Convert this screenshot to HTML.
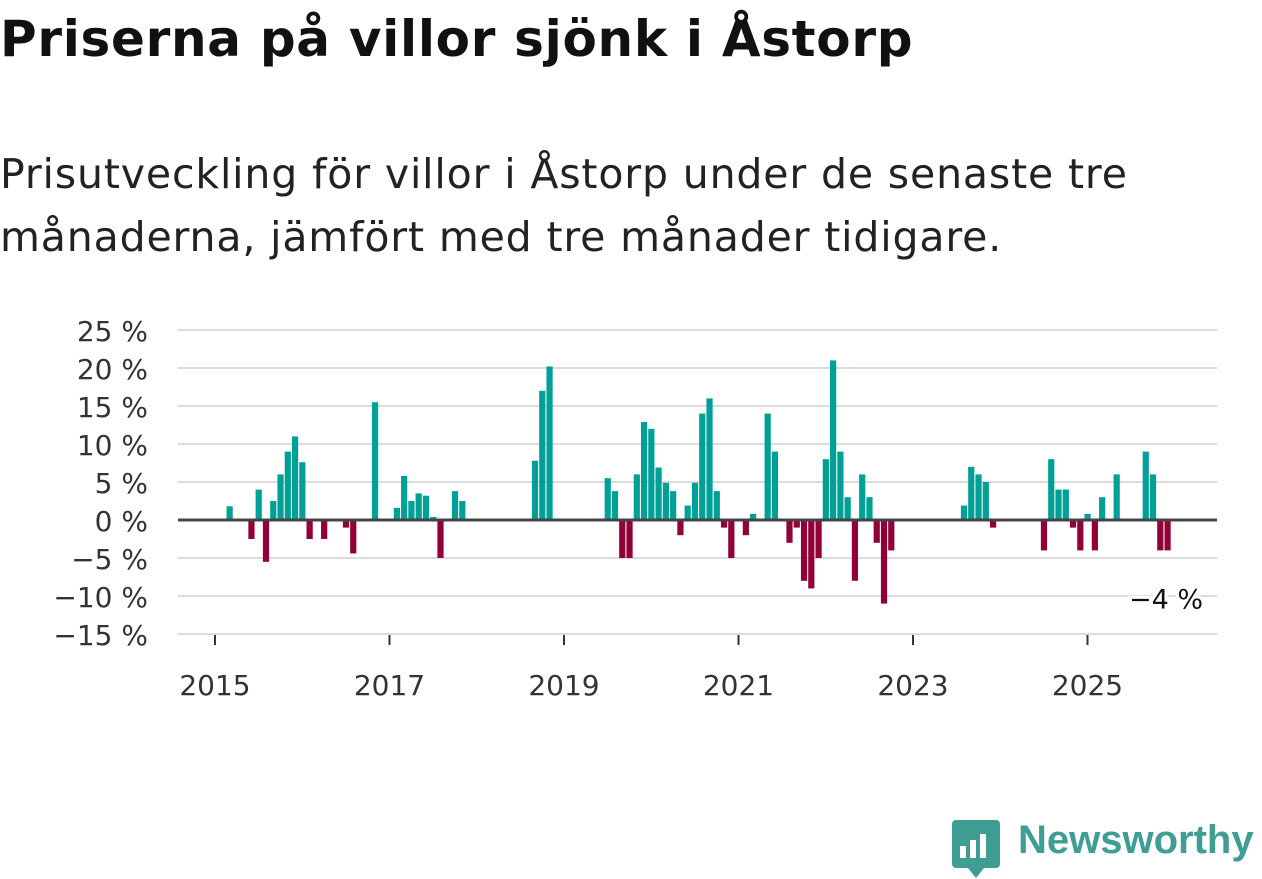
<!DOCTYPE html>
<html><head><meta charset="utf-8"><style>
body{margin:0;width:1262px;height:879px;background:#fff;overflow:hidden;font-family:"DejaVu Sans",sans-serif}
h1{position:absolute;left:0px;top:10px;margin:0;font-size:50px;font-weight:bold;color:#111;white-space:nowrap;letter-spacing:0.7px}
p{position:absolute;left:0px;top:143px;margin:0;font-size:41px;line-height:63px;color:#222;white-space:nowrap;letter-spacing:0.85px}
</style></head><body>
<h1>Priserna på villor sjönk i Åstorp</h1>
<p>Prisutveckling för villor i Åstorp under de senaste tre<br>månaderna, jämfört med tre månader tidigare.</p>
<svg id="c" width="1262" height="879" style="position:absolute;left:0;top:0"></svg>
<script>
const months=[2,5,6,7,8,9,10,11,12,13,15,18,19,22,25,26,27,28,29,30,31,33,34,44,45,46,54,55,56,57,58,59,60,61,62,63,64,65,66,67,68,69,70,71,73,74,76,77,79,80,81,82,83,84,85,86,87,88,89,90,91,92,93,103,104,105,106,107,114,115,116,117,118,119,120,121,122,124,128,129,130,131];
const values=[1.8,-2.5,4,-5.5,2.5,6,9,11,7.6,-2.5,-2.5,-1,-4.4,15.5,1.6,5.8,2.5,3.5,3.2,0.4,-5,3.8,2.5,7.8,17,20.2,5.5,3.8,-5,-5,6,12.9,12,6.9,4.9,3.8,-2,1.9,4.9,14,16,3.8,-1,-5,-2,0.8,14,9,-3,-1,-8,-9,-5,8,21,9,3,-8,6,3,-3,-11,-4,1.9,7,6,5,-1,-4,8,4,4,-1,-4,0.8,-4,3,6,9,6,-4,-4];
const yTicks=[25,20,15,10,5,0,-5,-10,-15];
const xTickYears=[2015,2017,2019,2021,2023,2025];
const svg=document.getElementById('c');const NS='http://www.w3.org/2000/svg';
const y=v=>520-v*7.6;
const x=m=>215+m*(87.25/12);
function mk(t,a,txt){const e=document.createElementNS(NS,t);for(const k in a)e.setAttribute(k,a[k]);if(txt!==undefined)e.textContent=txt;svg.appendChild(e);return e;}
yTicks.forEach(v=>{
 if(v!==0){const g=mk('line',{x1:178,x2:1217,y1:y(v),y2:y(v),stroke:'#dcdcdc','stroke-width':2});
 
 }
 const t=mk('text',{x:148,y:y(v)+11,'text-anchor':'end','font-size':28,fill:'#333','font-family':'DejaVu Sans, sans-serif'},(v<0?'\u2212'+(-v):v)+' %');
 
 
});
xTickYears.forEach(yr=>{
 const xx=x((yr-2015)*12);
 const l=mk('line',{x1:xx,x2:xx,y1:635,y2:645,stroke:'#333','stroke-width':2});
 
 
 const t=mk('text',{x:xx,y:695,'text-anchor':'middle','font-size':28,fill:'#333','font-family':'DejaVu Sans, sans-serif'},yr);
 
 
});
months.forEach((m,i)=>{
 const v=values[i];
 const r=mk('rect',{x:x(m)-3,y:Math.min(y(v),520),width:6.2,height:Math.abs(y(v)-520),fill:v>=0?'#00a096':'#920038'});
 
 
});
const z=mk('line',{x1:178,x2:1217,y1:520,y2:520,stroke:'#444','stroke-width':3});


const last=values[values.length-1];
const lb=mk('text',{x:1203,y:y(last)+58,'text-anchor':'end','font-size':27,fill:'#111',stroke:'#fff','stroke-width':6,'paint-order':'stroke','font-family':'DejaVu Sans, sans-serif'},'\u2212'+Math.abs(last)+' %');


</script>
<div style="position:absolute;left:952px;top:820px;width:48px;height:48px;background:#3f9e94;border-radius:4px">
<div style="position:absolute;left:8px;bottom:10px;width:6px;height:12px;background:#fff"></div>
<div style="position:absolute;left:18px;bottom:10px;width:6px;height:18px;background:#fff"></div>
<div style="position:absolute;left:28px;bottom:10px;width:6px;height:24px;background:#fff"></div>
<div style="position:absolute;left:16px;bottom:-10px;border-left:8px solid transparent;border-right:8px solid transparent;border-top:10px solid #3f9e94"></div>
</div>
<div style="position:absolute;left:1018px;top:818px;font-size:40px;font-weight:bold;color:#3f9e94;font-family:'Liberation Sans',sans-serif">Newsworthy</div>
</body></html>
